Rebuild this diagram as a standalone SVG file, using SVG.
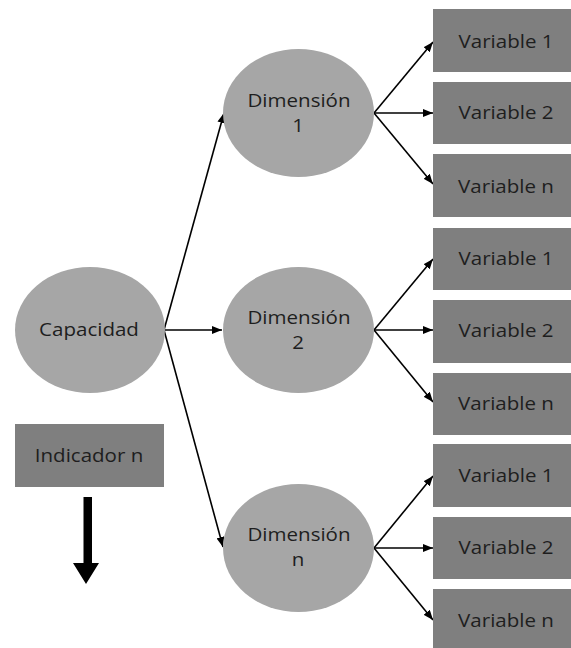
<svg xmlns="http://www.w3.org/2000/svg" width="571" height="648" viewBox="0 0 571 648">
<style>
.ell{fill:#a6a6a6;}
.box{fill:#7f7f7f;}
.t{font-family:"Open Sans","Noto Sans",sans-serif;font-size:18.5px;fill:#1e1e1e;text-anchor:middle;}
.c{stroke:#000;stroke-width:1.6;fill:none;marker-end:url(#ah);}
</style>
<defs>
<marker id="ah" viewBox="0 0 10 8" refX="10" refY="4" markerWidth="10" markerHeight="8" markerUnits="userSpaceOnUse" orient="auto">
<path d="M0,0 L10,4 L0,8 Z" fill="#000"/>
</marker>
</defs>
<rect width="571" height="648" fill="#fff"/>
<g id="connectors">
<line class="c" x1="164" y1="330" x2="224" y2="113"/>
<line class="c" x1="164" y1="330" x2="222" y2="330"/>
<line class="c" x1="164" y1="330" x2="223" y2="547"/>
<line class="c" x1="374" y1="113" x2="433" y2="42"/>
<line class="c" x1="374" y1="113" x2="433" y2="113"/>
<line class="c" x1="374" y1="113" x2="433" y2="184"/>
<line class="c" x1="374" y1="330" x2="433" y2="259"/>
<line class="c" x1="374" y1="330" x2="433" y2="330"/>
<line class="c" x1="374" y1="330" x2="433" y2="402"/>
<line class="c" x1="374" y1="548" x2="433" y2="476"/>
<line class="c" x1="374" y1="548" x2="433" y2="548"/>
<line class="c" x1="374" y1="548" x2="433" y2="620"/>
</g>
<g id="capacidad"><ellipse class="ell" cx="90" cy="330" rx="75" ry="63"/><text class="t" transform="translate(89,336) scale(1.11,1)">Capacidad</text></g>
<g id="indicador"><rect class="box" x="15" y="424" width="149" height="63"/><text class="t" transform="translate(89,462) scale(1.11,1)">Indicador n</text></g>
<g id="bigarrow"><path d="M83.5,497 H92 V563 H99 L86,584 L73,563 H83.5 Z" fill="#000"/></g>
<g id="dim1"><ellipse class="ell" cx="298.5" cy="113" rx="75.5" ry="64"/><text class="t" transform="translate(299,107) scale(1.11,1)">Dimensión</text><text class="t" transform="translate(298,132) scale(1.11,1)">1</text></g>
<g id="dim2"><ellipse class="ell" cx="298.5" cy="330" rx="75.5" ry="63"/><text class="t" transform="translate(299,324) scale(1.11,1)">Dimensión</text><text class="t" transform="translate(298,349) scale(1.11,1)">2</text></g>
<g id="dimn"><ellipse class="ell" cx="298.5" cy="548" rx="75.5" ry="64"/><text class="t" transform="translate(299,541) scale(1.11,1)">Dimensión</text><text class="t" transform="translate(298,566) scale(1.11,1)">n</text></g>
<g id="v11"><rect class="box" x="433" y="9" width="146" height="63"/><text class="t" transform="translate(506,48) scale(1.11,1)">Variable 1</text></g>
<g id="v12"><rect class="box" x="433" y="82" width="146" height="62"/><text class="t" transform="translate(506,119) scale(1.11,1)">Variable 2</text></g>
<g id="v1n"><rect class="box" x="433" y="154" width="146" height="63"/><text class="t" transform="translate(506,193) scale(1.11,1)">Variable n</text></g>
<g id="v21"><rect class="box" x="433" y="228" width="146" height="62"/><text class="t" transform="translate(506,265) scale(1.11,1)">Variable 1</text></g>
<g id="v22"><rect class="box" x="433" y="300" width="146" height="63"/><text class="t" transform="translate(506,337) scale(1.11,1)">Variable 2</text></g>
<g id="v2n"><rect class="box" x="433" y="373" width="146" height="62"/><text class="t" transform="translate(506,410) scale(1.11,1)">Variable n</text></g>
<g id="v31"><rect class="box" x="433" y="444" width="146" height="63"/><text class="t" transform="translate(506,482) scale(1.11,1)">Variable 1</text></g>
<g id="v32"><rect class="box" x="433" y="517" width="146" height="62"/><text class="t" transform="translate(506,554) scale(1.11,1)">Variable 2</text></g>
<g id="v3n"><rect class="box" x="433" y="589" width="146" height="63"/><text class="t" transform="translate(506,627) scale(1.11,1)">Variable n</text></g>
</svg>
